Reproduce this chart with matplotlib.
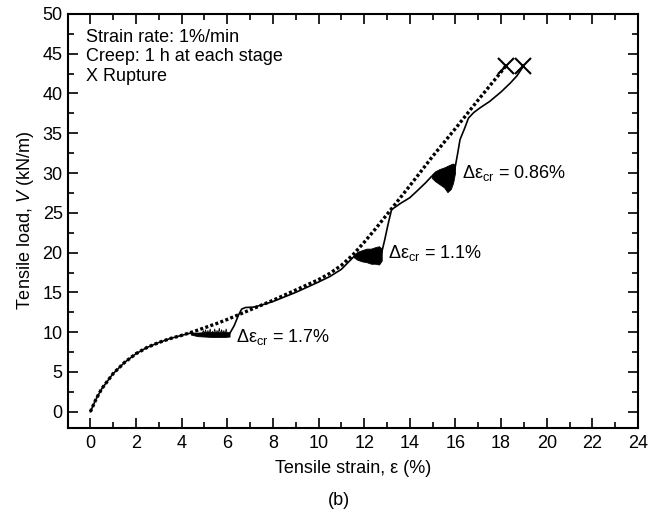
import matplotlib
matplotlib.use("Agg")
import matplotlib.pyplot as plt
from matplotlib.ticker import MultipleLocator

plt.rcParams['font.family'] = ['Liberation Sans', 'DejaVu Sans']
plt.rcParams['mathtext.fontset'] = 'custom'
plt.rcParams['mathtext.rm'] = 'Liberation Sans'
plt.rcParams['mathtext.it'] = 'Liberation Sans:italic'
plt.rcParams['mathtext.bf'] = 'Liberation Sans:bold'

# Monotonic (constant rate) test - dotted
dot_x = [0, 0.25, 0.5, 1, 1.5, 2, 2.5, 3, 3.5, 4, 4.5, 5, 5.5, 6, 6.5, 7, 7.5, 8, 9, 10,
         10.5, 11, 11.5, 12, 12.5, 13, 13.5, 14, 15, 16, 17, 18, 18.22]
dot_y = [0, 1.6, 2.9, 4.8, 6.2, 7.3, 8.1, 8.7, 9.2, 9.6, 10.05, 10.55, 11.05, 11.6, 12.2, 12.8,
         13.4, 14.0, 15.3, 16.6, 17.4, 18.4, 19.7, 21.3, 23.0, 24.8, 26.6, 28.4, 32.1, 35.6,
         39.2, 42.7, 43.5]

# Multi-stage creep test - solid
sol_x = [0, 0.25, 0.5, 1, 1.5, 2, 2.5, 3, 3.5, 4, 4.4, 4.6, 5.0, 5.5, 6.0, 6.1, 6.3, 6.5,
         6.63, 6.8, 7.14, 7.44, 8, 9, 10, 10.5, 11, 11.55, 11.8, 12.2, 12.6, 12.75, 12.9,
         13.05, 13.2, 13.6, 14.0, 14.3, 14.7, 14.96, 15.3, 15.6, 15.9, 15.98, 16.1, 16.2,
         16.4, 16.57, 16.8, 17.08, 17.5, 18.0, 18.4, 18.69, 18.95]
sol_y = [0, 1.6, 2.9, 4.8, 6.2, 7.3, 8.1, 8.7, 9.2, 9.6, 9.9, 9.75, 9.7, 9.7, 9.7, 9.8,
         10.8, 12.2, 12.9, 13.1, 13.15, 13.35, 13.85, 15.0, 16.3, 17.0, 17.9, 19.5, 19.6,
         19.6, 19.6, 19.8, 21.6, 23.6, 25.4, 26.2, 26.9, 27.7, 28.8, 29.6, 29.7, 29.8, 30.0,
         30.6, 32.5, 34.2, 35.6, 36.9, 37.6, 38.2, 39.0, 40.2, 41.3, 42.2, 43.3]

# Creep stage envelopes (oscillating readings)
c1_x = [4.4, 4.7, 5.0, 5.3, 5.6, 5.9, 6.1]
c1_lo = [9.7, 9.5, 9.45, 9.4, 9.4, 9.4, 9.45]
c1_hi = [9.95, 9.95, 10.0, 10.0, 10.0, 10.0, 10.0]
spk_x = [4.9, 4.95, 5.0, 5.05, 5.1, 5.15, 5.2, 5.25, 5.3, 5.35, 5.4, 5.45, 5.5, 5.55, 5.6,
         5.65, 5.7, 5.75, 5.8, 5.85, 5.9, 5.95, 6.0]
spk_y = [9.8, 10.2, 9.8, 10.3, 9.7, 10.2, 9.8, 10.4, 9.7, 10.1, 9.8, 10.4, 9.7, 10.2,
         9.8, 10.5, 9.7, 10.3, 9.8, 10.2, 9.7, 10.4, 9.8]

c2_x = [11.55, 11.7, 11.9, 12.1, 12.3, 12.5, 12.65, 12.77]
c2_lo = [19.4, 19.1, 18.9, 18.8, 18.6, 18.6, 18.5, 19.0]
c2_hi = [19.7, 20.1, 20.3, 20.5, 20.5, 20.7, 20.8, 20.5]

c3_x = [14.96, 15.1, 15.3, 15.5, 15.65, 15.8, 15.9, 15.98]
c3_lo = [29.4, 29.0, 28.6, 28.2, 27.6, 28.0, 28.8, 30.0]
c3_hi = [29.8, 30.2, 30.5, 30.7, 30.9, 31.1, 31.2, 31.0]

rupture_x = [18.22, 18.95]
rupture_y = [43.5, 43.4]

labels = ['Δε$_{\\mathrm{cr}}$ = 1.7%', 'Δε$_{\\mathrm{cr}}$ = 1.1%',
          'Δε$_{\\mathrm{cr}}$ = 0.86%']
label_x = [6.4, 13.06, 16.27]
label_y = [9.4, 19.9, 30.0]

FS = 13

fig = plt.figure(figsize=(6.56, 5.26), dpi=100)
ax = fig.add_axes([0.103, 0.187, 0.8695, 0.7865])

ax.plot(dot_x, dot_y, color='black', lw=2.4, ls=(0, (0.9, 0.7)))
ax.plot(sol_x, sol_y, color='black', lw=1.2)
for cx, lo, hi in [(c1_x, c1_lo, c1_hi), (c2_x, c2_lo, c2_hi), (c3_x, c3_lo, c3_hi)]:
    ax.fill_between(cx, lo, hi, color='black', lw=0.6, edgecolor='black')
ax.plot(spk_x, spk_y, color='black', lw=0.6)
ax.plot(rupture_x, rupture_y, ls='none', marker='x', ms=11, mew=1.5, color='black')

for t, x, y in zip(labels, label_x, label_y):
    ax.text(x, y, t, fontsize=FS, ha='left', va='center')

ax.text(0.032, 0.944, 'Strain rate: 1%/min', transform=ax.transAxes, fontsize=FS, va='center')
ax.text(0.032, 0.896, 'Creep: 1 h at each stage', transform=ax.transAxes, fontsize=FS, va='center')
ax.text(0.032, 0.848, 'X Rupture', transform=ax.transAxes, fontsize=FS, va='center')

ax.set_xlim(-1, 24)
ax.set_ylim(-2, 50)
ax.xaxis.set_major_locator(MultipleLocator(2))
ax.xaxis.set_minor_locator(MultipleLocator(1))
ax.yaxis.set_major_locator(MultipleLocator(5))
ax.yaxis.set_minor_locator(MultipleLocator(2.5))
ax.tick_params(which='both', direction='in', top=True, right=True, width=1.2, labelsize=FS)
ax.tick_params(which='major', length=7)
ax.tick_params(which='minor', length=4.5)
ax.tick_params(axis='x', pad=5)
for s in ax.spines.values():
    s.set_linewidth(1.5)

ax.set_xlabel('Tensile strain, ε (%)', fontsize=FS, labelpad=6)
ax.set_ylabel(r'Tensile load, $\mathit{V}$ (kN/m)', fontsize=FS, labelpad=5)

fig.text(0.516, 0.049, '(b)', ha='center', va='center', fontsize=FS)

fig.savefig('out.png', dpi=100)
